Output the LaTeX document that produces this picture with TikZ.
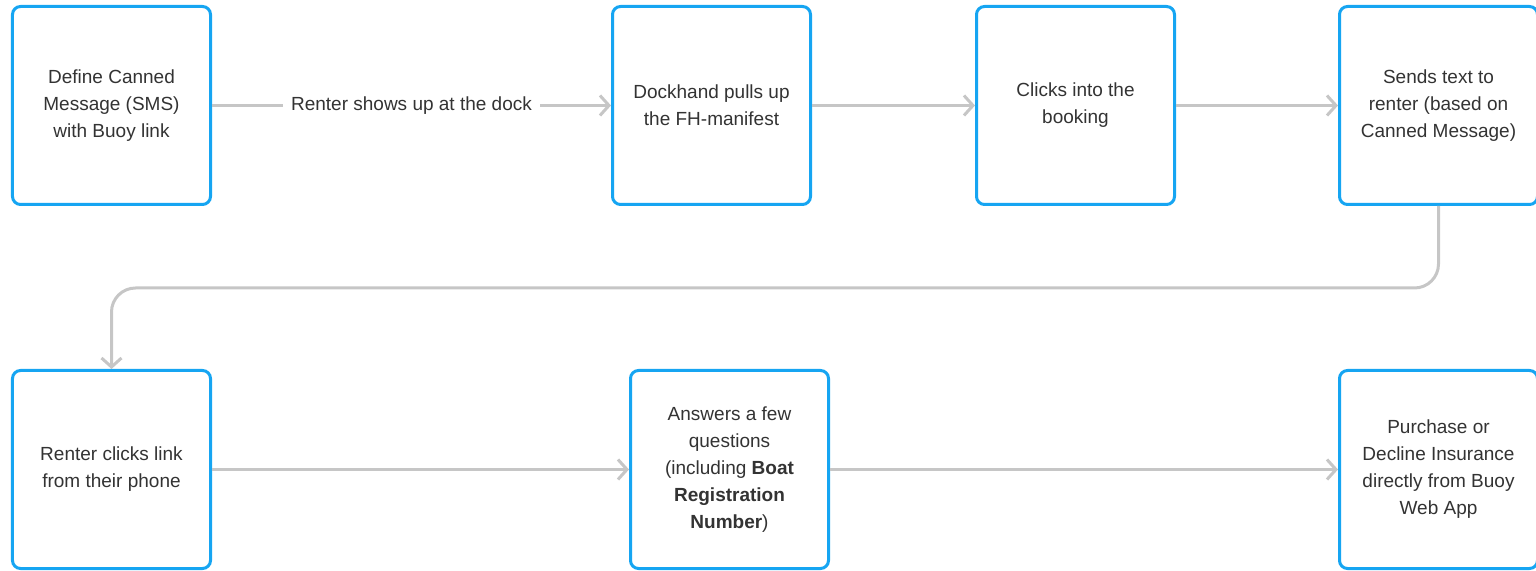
\documentclass[tikz,border=0pt]{standalone}
\usepackage{fontspec}
\setmainfont{Liberation Sans}
\usepackage{xcolor}
\usetikzlibrary{arrows.meta}

\definecolor{boxblue}{HTML}{16A5F2}
\definecolor{linegray}{HTML}{C6C6C6}
\definecolor{textgray}{HTML}{333333}

\begin{document}
\begin{tikzpicture}[
        font=\fontsize{9.5}{13.5}\selectfont\color{textgray},
        step box/.style={draw=boxblue, line width=1.5pt, rounded corners=4pt,
            minimum width=99pt, minimum height=99pt, align=center, fill=white},
        conn/.style={draw=linegray, line width=1.5pt,
            -{Straight Barb[length=4.5pt,width=10pt]}},
        lbl/.style={fill=white, inner xsep=4pt}
    ]
        \useasboundingbox (-55.75pt,52.75pt) rectangle (712.25pt,-232.75pt);

        \node (define) [step box] {Define Canned\\Message (SMS)\\with Buoy link};
        \node (manifest) [step box, right of=define, node distance=300pt] {Dockhand pulls up\\the FH-manifest};
        \node (booking) [step box, right of=manifest, node distance=182pt] {Clicks into the\\booking};
        \node (sendtext) [step box, right of=booking, node distance=181.5pt] {Sends text to\\renter (based on\\Canned Message)};

        \node (clicklink) [step box, below of=define, node distance=182pt] {Renter clicks link\\from their phone};
        \node (answers) [step box, right of=clicklink, node distance=309pt] {Answers a few\\questions\\(including \textbf{Boat}\\\textbf{Registration}\\\textbf{Number})};
        \node (purchase) [step box, right of=answers, node distance=354.5pt] {Purchase or\\Decline Insurance\\directly from Buoy\\Web App};

        \coordinate (bend) at ([yshift=-41pt]sendtext.south);

        \path[conn]
            (define) -- node [lbl] {Renter shows up at the dock} (manifest);
        \path[conn] (manifest) -- (booking);
        \path[conn] (booking) -- (sendtext);
        \path[conn, rounded corners=12pt]
            (sendtext.south) -- (bend) -| (clicklink.north);
        \path[conn] (clicklink) -- (answers);
        \path[conn] (answers) -- (purchase);
    \end{tikzpicture}
\end{document}
